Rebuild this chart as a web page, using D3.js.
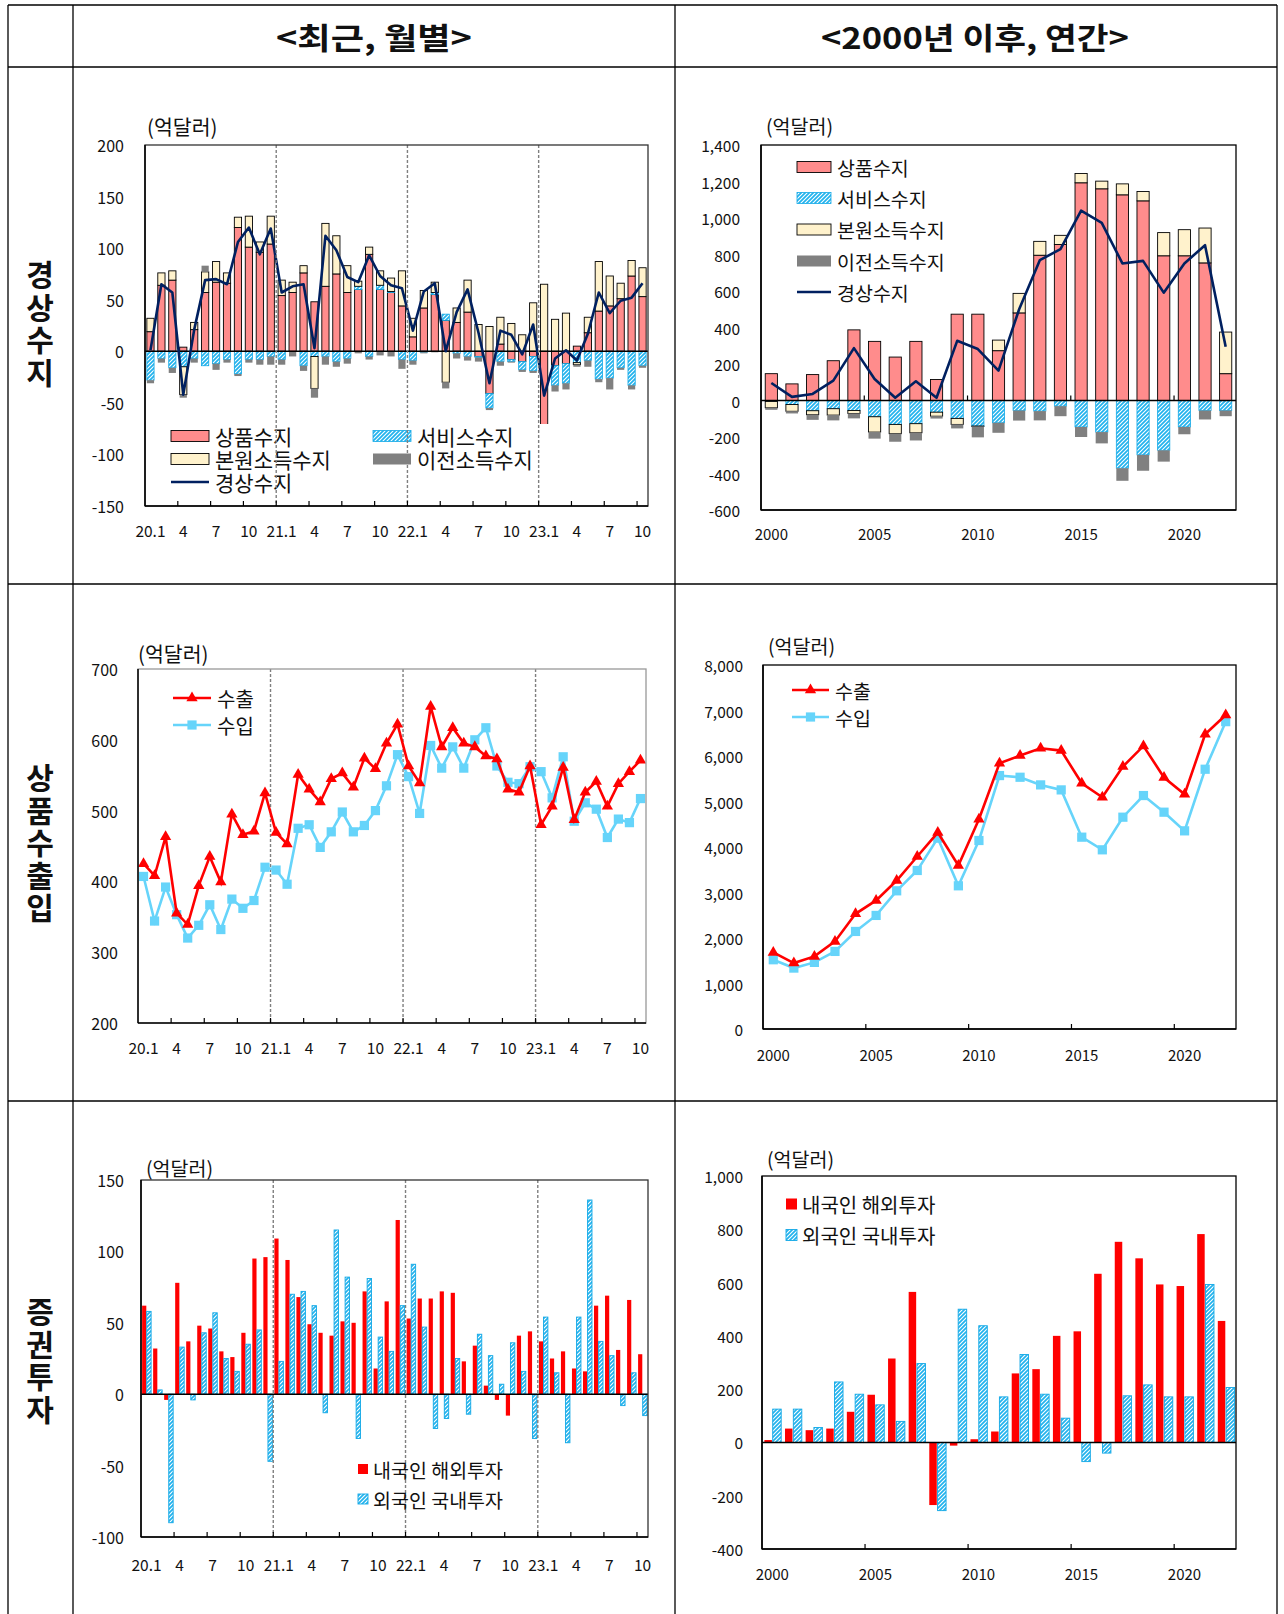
<!DOCTYPE html>
<meta charset="utf-8">
<script src="https://d3js.org/d3.v7.min.js"></script>
<style>
  body { margin: 0; background: #fff; }
  svg { display: block; }
  text { font-family: "Noto Sans CJK KR", "Noto Sans", sans-serif; fill: #111; }
</style>
<div id="chart"></div>
<script>
// ---- categories ----
const months = ["20.1","2","3","4","5","6","7","8","9","10","11","12",
                "21.1","2","3","4","5","6","7","8","9","10","11","12",
                "22.1","2","3","4","5","6","7","8","9","10","11","12",
                "23.1","2","3","4","5","6","7","8","9","10"];
const years = [2000,2001,2002,2003,2004,2005,2006,2007,2008,2009,2010,2011,
               2012,2013,2014,2015,2016,2017,2018,2019,2020,2021,2022];

// ---- current account, monthly (억달러) ----
const cmGoods     = [19,64,69,4,21,57,67,66,120,101,96,104, 54,57,76,48,63,75,57,60,94,60,57,44, 14,42,55,30,28,38,-5,-41,7,-8,-10,-5, -74,-14,-12,5,18,39,44,51,73,53];
const cmServices  = [-28,-7,-16,-15,-7,-14,-12,-8,-22,-8,-8,-5, -8,0,-14,-5,-5,-10,-7,3,-5,4,1,-8, -9,-1,2,6,-2,-5,-1,-14,-10,-2,-8,-14, -25,-19,-19,-11,-9,-27,-26,-16,-33,-14];
const cmPrimary   = [13,12,9,-27,7,20,20,10,10,30,10,27, 15,10,7,-31,61,37,26,5,7,14,13,34, 18,17,10,-30,14,31,26,24,26,27,16,47, 65,31,37,-2,15,48,29,15,15,28];
const cmSecondary = [-3,-4,-5,-3,-4,6,-6,-3,-2,-3,-5,-8, -5,-5,-5,-9,-8,-5,-5,-2,-3,-4,-5,-9, -4,-1,-1,-6,-5,-4,-4,-2,-4,-1,-2,-2, -9,-6,-6,-2,-6,-3,-11,-2,-4,-2];
const cmCurrent   = [1,65,57,-42,21,69,70,65,106,120,94,119, 57,63,65,3,112,98,72,67,93,73,64,61, 20,58,66,0,38,60,18,-31,20,16,-3,26, -43,-7,1,-9,17,57,37,49,52,66];

// ---- current account, annual (억달러) ----
const cyGoods     = [147,91,142,218,387,324,238,324,115,473,473,273,480,796,855,1193,1160,1127,1094,793,793,754,147];
const cyServices  = [-5,-22,-56,-45,-55,-89,-131,-127,-64,-98,-140,-122,-55,-58,-31,-145,-173,-371,-298,-273,-145,-55,-55];
const cyPrimary   = [-35,-37,-22,-35,-16,-84,-51,-50,-22,-33,-2,58,107,76,50,51,42,60,51,127,143,191,228];
const cySecondary = [-11,-12,-28,-29,-27,-36,-44,-42,-13,-22,-60,-55,-55,-51,-55,-55,-62,-69,-87,-62,-40,-49,-31];
const cyCurrent   = [96,20,36,109,287,118,15,105,15,327,282,164,500,769,829,1040,973,751,765,591,751,851,295];

// ---- goods exports / imports ----
const tmExports = [425,408,463,355,339,394,435,399,495,466,471,525, 469,453,551,530,512,545,553,533,574,559,595,622, 563,539,647,590,617,595,590,577,573,530,526,563, 480,506,561,487,526,541,506,538,555,571];
const tmImports = [407,344,392,353,320,338,367,332,375,362,373,420, 416,396,475,480,448,470,498,470,479,500,535,579, 548,496,592,560,590,560,600,617,563,540,538,562, 555,518,576,485,511,502,462,488,483,517];
const tyExports = [1683,1449,1596,1925,2532,2825,3264,3791,4318,3594,4611,5841,6009,6170,6119,5401,5094,5767,6221,5526,5160,6477,6902];
const tyImports = [1522,1339,1464,1705,2144,2496,3037,3484,4194,3147,4143,5570,5533,5365,5255,4216,3938,4655,5131,4765,4355,5709,6755];

// ---- portfolio investment ----
const pmResident = [62,32,-4,78,37,48,46,30,26,43,95,96, 109,94,68,49,43,41,51,50,72,18,65,122, 53,67,67,72,71,23,34,6,-4,-15,41,44, 37,25,30,18,16,62,69,31,66,28];
const pmForeign  = [58,3,-90,33,-4,43,57,25,16,35,45,-47, 23,70,72,62,-13,115,82,-31,81,40,30,62, 91,47,-24,-17,25,-14,42,27,7,36,16,-31, 54,15,-34,54,136,37,27,-8,15,-15];
const pyResident = [9,52,46,52,115,179,315,565,-235,-12,12,41,259,275,400,417,633,753,691,593,587,782,456];
const pyForeign  = [125,125,56,227,181,141,79,296,-256,500,438,171,330,181,91,-72,-40,175,216,171,171,593,206];

const W = 1284, H = 1614;
const svg = d3.select("#chart").append("svg").attr("width", W).attr("height", H);
const fmt = d => d3.format(",")(d).replace("\u2212", "-");

// hatch pattern for services / foreign investment
const defs = svg.append("defs");
const pat = defs.append("pattern").attr("id", "hatch")
  .attr("patternUnits", "userSpaceOnUse").attr("width", 4).attr("height", 4);
pat.append("rect").attr("width", 4).attr("height", 4).attr("fill", "#22b3ee");
pat.append("path").attr("d", "M-1,1 l2,-2 M0,4 l4,-4 M3,5 l2,-2")
  .attr("stroke", "#fff").attr("stroke-width", 1.1);

const C = { goods: "#ff8c8c", primary: "#fff2cc", secondary: "#808080", navy: "#002060",
            red: "#ff0000", sky: "#66d4fa", blueEdge: "#12a8e6" };

// ---- table frame ----
const tbl = svg.append("g").attr("stroke", "#000").attr("stroke-width", 1.3);
[5, 67, 584, 1101].forEach(v => tbl.append("line").attr("x1", 8).attr("x2", 1277).attr("y1", v).attr("y2", v));
[8, 73, 675, 1277].forEach(v => tbl.append("line").attr("x1", v).attr("x2", v).attr("y1", 5).attr("y2", H));

svg.append("text").attr("x", 374).attr("y", 36).attr("text-anchor", "middle")
  .attr("dominant-baseline", "central").attr("font-size", 30).attr("font-weight", 700)
  .attr("textLength", 196).attr("lengthAdjust", "spacingAndGlyphs").text("<최근, 월별>");
svg.append("text").attr("x", 975).attr("y", 36).attr("text-anchor", "middle")
  .attr("dominant-baseline", "central").attr("font-size", 30).attr("font-weight", 700)
  .attr("textLength", 308).attr("lengthAdjust", "spacingAndGlyphs").text("<2000년 이후, 연간>");

// vertical row titles
function rowLabel(t, cy) {
  svg.append("text").attr("x", 40).attr("y", cy).attr("text-anchor", "middle")
    .style("writing-mode", "vertical-rl").style("text-orientation", "upright")
    .attr("letter-spacing", 2.5).attr("font-size", 30).attr("font-weight", 700).text(t);
}
rowLabel("경상수지", 325);
rowLabel("상품수출입", 844);
rowLabel("증권투자", 1362);

// ---- helpers ----
function yLabels(g, y, ticks, xr, fs) {
  g.append("g").selectAll("text").data(ticks).join("text")
    .attr("x", xr).attr("y", d => y(d)).attr("text-anchor", "end")
    .attr("dominant-baseline", "central").attr("font-size", fs).text(fmt);
}
function unit(g, x, y, fs) {
  g.append("text").attr("x", x).attr("y", y).attr("dominant-baseline", "central")
    .attr("font-size", fs).text("(억달러)");
}
function frame(g, P, col) {
  g.append("rect").attr("x", P.x0).attr("y", P.y0).attr("width", P.x1 - P.x0).attr("height", P.y1 - P.y0)
    .attr("fill", "none").attr("stroke", col).attr("stroke-width", 1.3);
  g.append("line").attr("x1", P.x0).attr("x2", P.x0).attr("y1", P.y0).attr("y2", P.y1)
    .attr("stroke", "#000").attr("stroke-width", 1.5);
  g.append("line").attr("x1", P.x0).attr("x2", P.x1).attr("y1", P.y1).attr("y2", P.y1)
    .attr("stroke", "#000").attr("stroke-width", 1.5);
}
function monthAxis(g, x, P, ly) {
  const idx = d3.range(0, months.length, 3);
  g.append("g").selectAll("line").data(idx.filter(i => i > 0)).join("line")
    .attr("x1", i => x(i)).attr("x2", i => x(i)).attr("y1", P.y1).attr("y2", P.y1 - 5)
    .attr("stroke", "#000").attr("stroke-width", 1.2);
  g.append("g").selectAll("text").data(idx).join("text")
    .attr("x", i => x(i) + x.bandwidth() / 2).attr("y", ly).attr("text-anchor", "middle")
    .attr("dominant-baseline", "central").attr("font-size", 15.5).text(i => months[i]);
}
function yearDividers(g, x, P) {
  g.append("g").selectAll("line").data([12, 24, 36]).join("line")
    .attr("x1", i => x(i)).attr("x2", i => x(i)).attr("y1", P.y0).attr("y2", P.y1)
    .attr("stroke", "#7f7f7f").attr("stroke-width", 1.4).attr("stroke-dasharray", "3,2");
}
function yearAxis(g, x, P, tickY, ly) {
  const idx = [0, 5, 10, 15, 20];
  g.append("g").selectAll("line").data(idx.filter(i => i > 0)).join("line")
    .attr("x1", i => x(i)).attr("x2", i => x(i)).attr("y1", tickY).attr("y2", tickY - 5)
    .attr("stroke", "#000").attr("stroke-width", 1.2);
  g.append("g").selectAll("text").data(idx).join("text")
    .attr("x", i => x(i) + x.bandwidth() / 2).attr("y", ly).attr("text-anchor", "middle")
    .attr("dominant-baseline", "central").attr("font-size", 15).text(i => years[i]);
}
const styles = {
  goods:     { fill: C.goods, stroke: "#000", sw: 0.9 },
  services:  { fill: "url(#hatch)", stroke: C.blueEdge, sw: 0.8 },
  primary:   { fill: C.primary, stroke: "#000", sw: 0.9 },
  secondary: { fill: C.secondary, stroke: "none", sw: 0 }
};
function stackedBars(g, x, y, rows, bw) {
  const keys = ["goods", "services", "primary", "secondary"];
  const series = d3.stack().keys(keys).offset(d3.stackOffsetDiverging)(rows);
  g.append("g").selectAll("g").data(series).join("g")
    .attr("fill", s => styles[s.key].fill).attr("stroke", s => styles[s.key].stroke)
    .attr("stroke-width", s => styles[s.key].sw)
    .selectAll("rect").data(s => s.map((d, i) => [d[0], d[1], i])).join("rect")
      .attr("x", d => x(d[2]) + (x.bandwidth() - bw) / 2).attr("width", bw)
      .attr("y", d => y(Math.max(d[0], d[1]))).attr("height", d => Math.abs(y(d[0]) - y(d[1])));
}
function zeroLine(g, y, P) {
  g.append("line").attr("x1", P.x0).attr("x2", P.x1).attr("y1", y(0)).attr("y2", y(0))
    .attr("stroke", "#000").attr("stroke-width", 1.4);
}
function swatch(g, x, y, w, h, st) {
  g.append("rect").attr("x", x).attr("y", y - h / 2).attr("width", w).attr("height", h)
    .attr("fill", st.fill).attr("stroke", st.stroke).attr("stroke-width", st.sw || 0);
}
function legText(g, x, y, fs, t) {
  g.append("text").attr("x", x).attr("y", y).attr("dominant-baseline", "central").attr("font-size", fs).text(t);
}

// ---------- TL: monthly current account ----------
{
  const P = { x0: 145, x1: 648, y0: 145, y1: 506 };
  const g = svg.append("g");
  const x = d3.scaleBand().domain(d3.range(months.length)).range([P.x0, P.x1]);
  const y = d3.scaleLinear().domain([-150, 200]).range([P.y1, P.y0]);
  const rows = months.map((m, i) => ({ goods: cmGoods[i], services: cmServices[i], primary: cmPrimary[i], secondary: cmSecondary[i] }));
  stackedBars(g, x, y, rows, x.bandwidth() * 0.66);
  zeroLine(g, y, P);
  g.append("path").datum(cmCurrent).attr("fill", "none").attr("stroke", C.navy).attr("stroke-width", 2.6)
    .attr("stroke-linejoin", "round")
    .attr("d", d3.line().x((d, i) => x(i) + x.bandwidth() / 2).y(d => y(d)));
  // legend box (covers the deep January-2023 bar, as in the original)
  const lg = g.append("g");
  lg.append("rect").attr("x", 163).attr("y", 424).attr("width", 394).attr("height", 76).attr("fill", "#fff");
  swatch(lg, 171, 436, 38, 11, styles.goods);    legText(lg, 215, 436, 21, "상품수지");
  swatch(lg, 373, 436, 38, 11, styles.services); legText(lg, 417, 436, 21, "서비스수지");
  swatch(lg, 171, 459, 38, 11, styles.primary);  legText(lg, 215, 459, 21, "본원소득수지");
  swatch(lg, 373, 459, 38, 11, styles.secondary);legText(lg, 417, 459, 21, "이전소득수지");
  lg.append("line").attr("x1", 171).attr("x2", 209).attr("y1", 482).attr("y2", 482).attr("stroke", C.navy).attr("stroke-width", 2.6);
  legText(lg, 215, 482, 21, "경상수지");
  yearDividers(g, x, P);
  frame(g, P, "#333");
  monthAxis(g, x, P, 530);
  yLabels(g, y, [200, 150, 100, 50, 0, -50, -100, -150], P.x0 - 21, 16);
  unit(g, 147, 126, 20.5);
}

// ---------- TR: annual current account ----------
{
  const P = { x0: 761, x1: 1236, y0: 145, y1: 510 };
  const g = svg.append("g");
  const x = d3.scaleBand().domain(d3.range(years.length)).range([P.x0, P.x1]);
  const y = d3.scaleLinear().domain([-600, 1400]).range([P.y1, P.y0]);
  const rows = years.map((yr, i) => ({ goods: cyGoods[i], services: cyServices[i], primary: cyPrimary[i], secondary: cySecondary[i] }));
  stackedBars(g, x, y, rows, x.bandwidth() * 0.59);
  zeroLine(g, y, P);
  g.append("path").datum(cyCurrent).attr("fill", "none").attr("stroke", C.navy).attr("stroke-width", 2.6)
    .attr("stroke-linejoin", "round")
    .attr("d", d3.line().x((d, i) => x(i) + x.bandwidth() / 2).y(d => y(d)));
  frame(g, P, "#000");
  yearAxis(g, x, P, y(0), 533);
  yLabels(g, y, d3.range(-600, 1401, 200), 740, 15.5);
  unit(g, 766, 125, 19.5);
  const ly = [167, 198, 229.5, 261, 292];
  swatch(g, 797, ly[0], 34, 11, styles.goods);     legText(g, 837, ly[0], 19.5, "상품수지");
  swatch(g, 797, ly[1], 34, 11, styles.services);  legText(g, 837, ly[1], 19.5, "서비스수지");
  swatch(g, 797, ly[2], 34, 11, styles.primary);   legText(g, 837, ly[2], 19.5, "본원소득수지");
  swatch(g, 797, ly[3], 34, 11, styles.secondary); legText(g, 837, ly[3], 19.5, "이전소득수지");
  g.append("line").attr("x1", 797).attr("x2", 831).attr("y1", ly[4]).attr("y2", ly[4]).attr("stroke", C.navy).attr("stroke-width", 2.6);
  legText(g, 837, ly[4], 19.5, "경상수지");
}

// ---------- line panels ----------
function tradeLines(g, x, y, ex, im, triSize, sqSize) {
  const cx = i => x(i) + x.bandwidth() / 2;
  const line = d3.line().x((d, i) => cx(i)).y(d => y(d));
  g.append("path").datum(im).attr("fill", "none").attr("stroke", C.sky).attr("stroke-width", 2.6).attr("d", line);
  g.append("g").selectAll("path").data(im).join("path")
    .attr("transform", (d, i) => `translate(${cx(i)},${y(d)})`)
    .attr("d", d3.symbol(d3.symbolSquare, sqSize)).attr("fill", C.sky);
  g.append("path").datum(ex).attr("fill", "none").attr("stroke", C.red).attr("stroke-width", 2.6).attr("d", line);
  g.append("g").selectAll("path").data(ex).join("path")
    .attr("transform", (d, i) => `translate(${cx(i)},${y(d)})`)
    .attr("d", d3.symbol(d3.symbolTriangle, triSize)).attr("fill", C.red);
}
function lineLegend(g, x1, x2, y, col, sym, size, fs, t) {
  g.append("line").attr("x1", x1).attr("x2", x2).attr("y1", y).attr("y2", y).attr("stroke", col).attr("stroke-width", 2.6);
  g.append("path").attr("transform", `translate(${(x1 + x2) / 2},${y})`).attr("d", d3.symbol(sym, size)).attr("fill", col);
  legText(g, x2 + 6, y, fs, t);
}

// ---------- ML: monthly exports / imports ----------
{
  const P = { x0: 138, x1: 646, y0: 669, y1: 1023 };
  const g = svg.append("g");
  const x = d3.scaleBand().domain(d3.range(months.length)).range([P.x0, P.x1]);
  const y = d3.scaleLinear().domain([200, 700]).range([P.y1, P.y0]);
  yearDividers(g, x, P);
  tradeLines(g, x, y, tmExports, tmImports, 55, 85);
  frame(g, P, "#999");
  monthAxis(g, x, P, 1047);
  yLabels(g, y, [700, 600, 500, 400, 300, 200], P.x0 - 20, 16);
  unit(g, 138, 653, 20.5);
  lineLegend(g, 173, 211, 698, C.red, d3.symbolTriangle, 55, 20, "수출");
  lineLegend(g, 173, 211, 725, C.sky, d3.symbolSquare, 85, 20, "수입");
}

// ---------- MR: annual exports / imports ----------
{
  const P = { x0: 763, x1: 1236, y0: 665, y1: 1029 };
  const g = svg.append("g");
  const x = d3.scaleBand().domain(d3.range(years.length)).range([P.x0, P.x1]);
  const y = d3.scaleLinear().domain([0, 8000]).range([P.y1, P.y0]);
  tradeLines(g, x, y, tyExports, tyImports, 55, 85);
  frame(g, P, "#000");
  yearAxis(g, x, P, P.y1, 1054);
  yLabels(g, y, d3.range(0, 8001, 1000), 743, 15.5);
  unit(g, 768, 645, 19.5);
  lineLegend(g, 792, 829, 690, C.red, d3.symbolTriangle, 55, 19.5, "수출");
  lineLegend(g, 792, 829, 717, C.sky, d3.symbolSquare, 85, 19.5, "수입");
}

// ---------- pair bars ----------
function pairBars(g, x, y, a, b, off, wa, wb) {
  const cx = i => x(i) + x.bandwidth() / 2;
  g.append("g").selectAll("rect").data(a).join("rect")
    .attr("x", (d, i) => cx(i) - off - wa).attr("width", wa)
    .attr("y", d => y(Math.max(0, d))).attr("height", d => Math.abs(y(d) - y(0)))
    .attr("fill", C.red);
  g.append("g").selectAll("rect").data(b).join("rect")
    .attr("x", (d, i) => cx(i) + off).attr("width", wb)
    .attr("y", d => y(Math.max(0, d))).attr("height", d => Math.abs(y(d) - y(0)))
    .attr("fill", "url(#hatch)").attr("stroke", C.blueEdge).attr("stroke-width", 0.9);
}
function squareLegend(g, x, y, s, fs) {
  g.append("rect").attr("x", x).attr("y", y[0] - s / 2).attr("width", s).attr("height", s).attr("fill", C.red);
  legText(g, x + s + 5, y[0], fs, "내국인 해외투자");
  g.append("rect").attr("x", x).attr("y", y[1] - s / 2).attr("width", s).attr("height", s)
    .attr("fill", "url(#hatch)").attr("stroke", C.blueEdge).attr("stroke-width", 0.9);
  legText(g, x + s + 5, y[1], fs, "외국인 국내투자");
}

// ---------- BL: monthly portfolio investment ----------
{
  const P = { x0: 141, x1: 648, y0: 1180, y1: 1537 };
  const g = svg.append("g");
  const x = d3.scaleBand().domain(d3.range(months.length)).range([P.x0, P.x1]);
  const y = d3.scaleLinear().domain([-100, 150]).range([P.y1, P.y0]);
  pairBars(g, x, y, pmResident, pmForeign, 0.2, 4.2, 4.4);
  zeroLine(g, y, P);
  yearDividers(g, x, P);
  frame(g, P, "#333");
  monthAxis(g, x, P, 1564);
  yLabels(g, y, [150, 100, 50, 0, -50, -100], P.x0 - 17, 16);
  unit(g, 146, 1167, 19.5);
  squareLegend(g, 358, [1469, 1499], 10, 19.5);
}

// ---------- BR: annual portfolio investment ----------
{
  const P = { x0: 762, x1: 1236, y0: 1176, y1: 1549 };
  const g = svg.append("g");
  const x = d3.scaleBand().domain(d3.range(years.length)).range([P.x0, P.x1]);
  const y = d3.scaleLinear().domain([-400, 1000]).range([P.y1, P.y0]);
  pairBars(g, x, y, pyResident, pyForeign, 0.4, 7.5, 8.5);
  zeroLine(g, y, P);
  frame(g, P, "#000");
  yearAxis(g, x, P, P.y1, 1573);
  yLabels(g, y, d3.range(-400, 1001, 200), 743, 15.5);
  unit(g, 767, 1158, 19.5);
  squareLegend(g, 786, [1204, 1235], 11, 20);
}
</script>
